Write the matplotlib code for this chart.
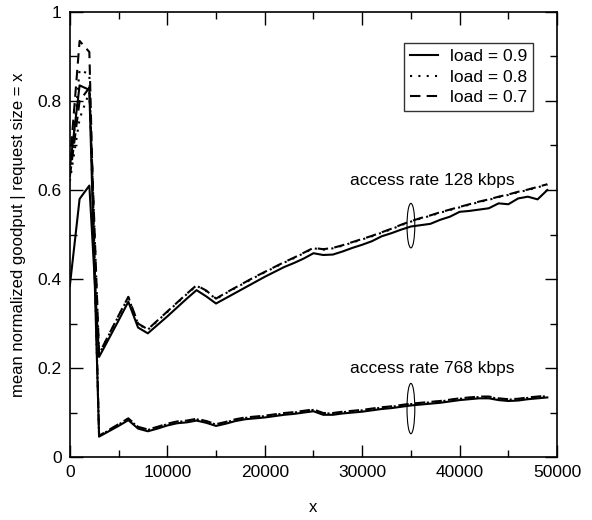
import matplotlib
matplotlib.use('Agg')
from matplotlib import pyplot as plt
from matplotlib.patches import Ellipse
from matplotlib.ticker import MultipleLocator

plt.rcParams['font.family'] = ['Liberation Sans', 'DejaVu Sans']

# request size x (bytes)
x = list(range(0, 50000, 1000))

# access rate 128 kbps
rate128_load09 = [0.385, 0.58, 0.61, 0.225, 0.266, 0.307, 0.349, 0.291, 0.278, 0.297,
                  0.316, 0.336, 0.356, 0.375, 0.361, 0.345, 0.357, 0.369, 0.381, 0.393,
                  0.405, 0.416, 0.427, 0.436, 0.446, 0.458, 0.454, 0.455, 0.462, 0.470,
                  0.477, 0.485, 0.496, 0.503, 0.511, 0.518, 0.521, 0.524, 0.533, 0.540,
                  0.551, 0.553, 0.556, 0.559, 0.570, 0.568, 0.581, 0.585, 0.579, 0.600]
rate128_load08 = [0.62, 0.76, 0.82, 0.231, 0.274, 0.317, 0.359, 0.299, 0.286, 0.306,
                  0.326, 0.346, 0.366, 0.385, 0.373, 0.355, 0.368, 0.380, 0.392, 0.404,
                  0.415, 0.426, 0.437, 0.447, 0.458, 0.469, 0.466, 0.469, 0.475, 0.482,
                  0.489, 0.496, 0.504, 0.512, 0.521, 0.529, 0.536, 0.542, 0.549, 0.555,
                  0.561, 0.567, 0.573, 0.578, 0.584, 0.589, 0.595, 0.600, 0.606, 0.612]
rate128_load07 = [0.63, 0.80, 0.83, 0.232, 0.275, 0.318, 0.360, 0.300, 0.287, 0.307,
                  0.327, 0.347, 0.367, 0.386, 0.374, 0.356, 0.369, 0.381, 0.393, 0.405,
                  0.416, 0.427, 0.438, 0.448, 0.459, 0.470, 0.467, 0.470, 0.476, 0.483,
                  0.490, 0.497, 0.505, 0.513, 0.522, 0.530, 0.537, 0.543, 0.550, 0.556,
                  0.562, 0.568, 0.574, 0.579, 0.585, 0.590, 0.596, 0.601, 0.607, 0.613]

# access rate 768 kbps
rate768_load09 = [0.65, 0.835, 0.825, 0.046, 0.058, 0.070, 0.083, 0.064, 0.058, 0.064,
                  0.071, 0.076, 0.078, 0.082, 0.077, 0.070, 0.075, 0.081, 0.085, 0.087,
                  0.089, 0.092, 0.095, 0.097, 0.100, 0.103, 0.095, 0.095, 0.098, 0.100,
                  0.102, 0.105, 0.108, 0.110, 0.113, 0.116, 0.118, 0.120, 0.122, 0.125,
                  0.128, 0.130, 0.132, 0.132, 0.128, 0.126, 0.127, 0.130, 0.132, 0.134]
rate768_load08 = [0.62, 0.87, 0.86, 0.047, 0.060, 0.073, 0.086, 0.067, 0.061, 0.067,
                  0.074, 0.079, 0.081, 0.085, 0.080, 0.073, 0.078, 0.084, 0.088, 0.090,
                  0.092, 0.095, 0.098, 0.100, 0.103, 0.106, 0.098, 0.098, 0.101, 0.103,
                  0.105, 0.108, 0.111, 0.113, 0.116, 0.119, 0.121, 0.123, 0.125, 0.128,
                  0.131, 0.133, 0.135, 0.135, 0.131, 0.129, 0.130, 0.133, 0.135, 0.137]
rate768_load07 = [0.66, 0.935, 0.91, 0.048, 0.061, 0.074, 0.087, 0.068, 0.062, 0.068,
                  0.075, 0.080, 0.082, 0.086, 0.081, 0.074, 0.079, 0.085, 0.089, 0.091,
                  0.093, 0.096, 0.099, 0.101, 0.104, 0.107, 0.099, 0.099, 0.102, 0.104,
                  0.106, 0.109, 0.112, 0.114, 0.117, 0.120, 0.122, 0.124, 0.126, 0.129,
                  0.132, 0.134, 0.136, 0.136, 0.132, 0.130, 0.131, 0.134, 0.136, 0.138]

fig = plt.figure(figsize=(5.92, 5.2), dpi=100)
ax = fig.add_axes([0.118, 0.121, 0.823, 0.856])

ax.plot(x, rate128_load09, color='black', lw=1.5, ls='-', label='load = 0.9')
ax.plot(x, rate128_load08, color='black', lw=1.5, ls=(0, (1, 3)), label='load = 0.8')
ax.plot(x, rate128_load07, color='black', lw=1.5, ls=(0, (5, 3)), label='load = 0.7')
ax.plot(x, rate768_load09, color='black', lw=1.5, ls='-')
ax.plot(x, rate768_load08, color='black', lw=1.5, ls=(0, (1, 3)))
ax.plot(x, rate768_load07, color='black', lw=1.5, ls=(0, (5, 3)))

# grouping ellipses and labels
ax.add_patch(Ellipse((35000, 0.52), 800, 0.1, fill=False, color='black', lw=0.8))
ax.add_patch(Ellipse((35000, 0.109), 800, 0.113, fill=False, color='black', lw=0.8))
ax.text(37170, 0.622, 'access rate 128 kbps', ha='center', va='center', fontsize=12.5)
ax.text(37170, 0.20, 'access rate 768 kbps', ha='center', va='center', fontsize=12.5)

ax.set_xlim(0, 50000)
ax.set_ylim(0, 1)
ax.xaxis.set_major_locator(MultipleLocator(10000))
ax.xaxis.set_minor_locator(MultipleLocator(5000))
ax.yaxis.set_major_locator(MultipleLocator(0.2))
ax.yaxis.set_minor_locator(MultipleLocator(0.1))
ax.yaxis.set_major_formatter(plt.FuncFormatter(lambda v, p: '%g' % v))
ax.tick_params(which='both', direction='in', top=True, right=True, labelsize=12.5, width=1)
ax.tick_params(which='major', length=9, pad=6)
ax.tick_params(which='minor', length=5)
for s in ax.spines.values():
    s.set_linewidth(1.2)

ax.set_xlabel('x', fontsize=12, labelpad=14)
ax.set_ylabel('mean normalized goodput | request size = x', fontsize=12, labelpad=8)

leg = ax.legend(loc='upper right', bbox_to_anchor=(0.951, 0.93), fontsize=12.5,
                frameon=True, fancybox=False, handlelength=1.6, borderpad=0.35,
                labelspacing=0.3, handletextpad=0.7, borderaxespad=0)
leg.get_frame().set_edgecolor('black')
leg.get_frame().set_linewidth(1)

plt.savefig('out.png', dpi=100)
